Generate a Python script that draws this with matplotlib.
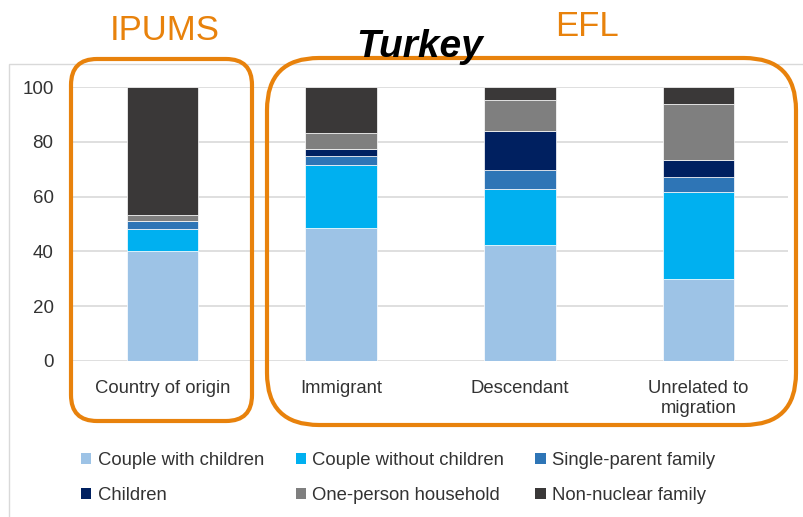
import matplotlib
matplotlib.use('Agg')
import matplotlib.pyplot as plt
import numpy as np
from matplotlib.patches import Patch, FancyBboxPatch, Rectangle

plt.rcParams['font.family'] = ['Liberation Sans', 'DejaVu Sans']

categories = ['Country of origin', 'Immigrant', 'Descendant', 'Unrelated to\nmigration']
couple_with_children = [40.2, 48.6, 42.4, 29.8]
couple_without_children = [8.0, 23.1, 20.4, 32.0]
single_parent = [3.0, 3.2, 7.0, 5.3]
children = [0.0, 2.6, 14.1, 6.3]
one_person = [2.2, 5.9, 11.5, 20.4]
non_nuclear = [46.6, 16.6, 4.6, 6.2]

series = [couple_with_children, couple_without_children, single_parent,
          children, one_person, non_nuclear]
labels = ['Couple with children', 'Couple without children', 'Single-parent family',
          'Children', 'One-person household', 'Non-nuclear family']
colours = ['#9DC3E6', '#00B0F0', '#2E75B6', '#002060', '#7F7F7F', '#3A3838']
orange = '#E8820C'

fig = plt.figure(figsize=(8.04, 5.17), dpi=100)
ax = fig.add_axes([73/804, 1 - 360.7/517, 715/804, 273.4/517])

x = np.arange(len(categories))
bottom = np.zeros(len(categories))
for vals, col in zip(series, colours):
    ax.bar(x, vals, 0.4, bottom=bottom, color=col, edgecolor='white', linewidth=0.5, zorder=3)
    bottom += np.array(vals)

ax.set_xlim(-0.5, len(categories) - 0.5)
ax.set_ylim(0, 100)
ax.set_yticks(np.arange(0, 101, 20))
ax.set_xticks(x)
ax.set_xticklabels(categories, fontsize=13.3, color='#333333')
ax.tick_params(axis='y', labelsize=13.5, labelcolor='#333333', length=0, pad=14)
ax.tick_params(axis='x', length=0, pad=14)
ax.grid(axis='y', color='#D9D9D9', linewidth=1.2, zorder=0)
for s in ax.spines.values():
    s.set_visible(False)

# light chart-area border
fig.patches.append(Rectangle((0.09, -0.2), 9, 4.73, transform=fig.dpi_scale_trans,
                             fill=False, edgecolor='#D9D9D9', linewidth=1))

# orange rounded boxes
box1 = FancyBboxPatch((0.71, 0.96), 1.81, 3.62, boxstyle='round,pad=0,rounding_size=0.26',
                      transform=fig.dpi_scale_trans, fill=False, edgecolor=orange, linewidth=3)
box2 = FancyBboxPatch((2.67, 0.92), 5.29, 3.67, boxstyle='round,pad=0,rounding_size=0.52',
                      transform=fig.dpi_scale_trans, fill=False, edgecolor=orange, linewidth=3)
fig.patches.extend([box1, box2])

fig.text(165/804, 1 - 31/517, 'IPUMS', color=orange, fontsize=25, ha='center', va='center')
fig.text(587/804, 1 - 26/517, 'EFL', color=orange, fontsize=25, ha='center', va='center')
fig.text(420/804, 1 - 57/517, 'Turkey', color='black', fontsize=28, fontweight='bold',
         fontstyle='italic', ha='center', va='baseline', zorder=5)

handles = [Patch(facecolor=c, label=l) for c, l in zip(colours, labels)]
order = [0, 3, 1, 4, 2, 5]
fig.legend([handles[i] for i in order], [labels[i] for i in order], ncol=3,
           loc='upper left', bbox_to_anchor=(72/804, 1 - 443/517), frameon=False,
           fontsize=13.3, handlelength=0.55, handleheight=0.55, handletextpad=0.35,
           columnspacing=1.7, labelspacing=0.95, borderpad=0, labelcolor='#333333')

fig.savefig('out.png', dpi=100)
